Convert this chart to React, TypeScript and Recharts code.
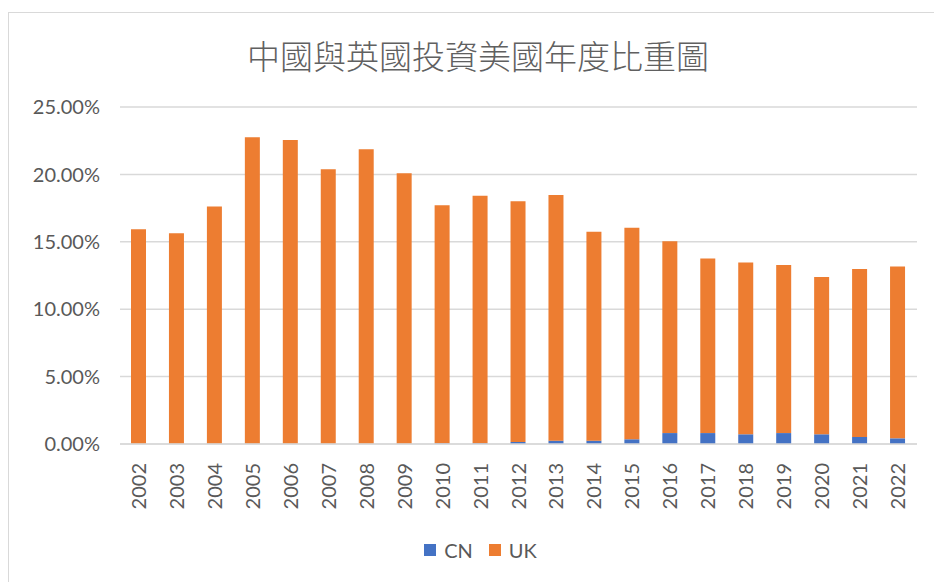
import { BarChart, Bar, XAxis, YAxis, CartesianGrid, Legend } from 'recharts'

const years = [
  '2002', '2003', '2004', '2005', '2006', '2007', '2008', '2009', '2010', '2011', '2012',
  '2013', '2014', '2015', '2016', '2017', '2018', '2019', '2020', '2021', '2022',
]

// percent of annual US investment
const cnShare = [
  0.01, 0.01, 0.01, 0.01, 0.01, 0.01, 0.01, 0.02, 0.05, 0.06, 0.15,
  0.25, 0.25, 0.35, 0.81, 0.81, 0.72, 0.81, 0.72, 0.52, 0.42,
]
const ukShare = [
  15.93, 15.63, 17.6, 22.75, 22.55, 20.38, 21.86, 20.07, 17.67, 18.35, 17.86,
  18.23, 15.49, 15.69, 14.24, 12.95, 12.75, 12.46, 11.67, 12.46, 12.75,
]
const yTicks = [0, 5, 10, 15, 20, 25]

const CN_COLOR = '#4472C4'
const UK_COLOR = '#ED7D31'
const TEXT = '#595959'
const GRID = '#d9d9d9'
const FONT = 'Lato, "Open Sans", sans-serif'

const data = years.map((year, i) => ({ year, CN: cnShare[i], UK: ukShare[i] }))

function YearTick({ x, y, payload }: { x: number; y: number; payload: { value: string } }) {
  return (
    <text
      x={x}
      y={y}
      dy={7}
      transform={`rotate(-90, ${x}, ${y})`}
      textAnchor="end"
      fill={TEXT}
      fontSize={20}
      fontFamily={FONT}
    >
      {payload.value}
    </text>
  )
}

function LegendContent() {
  const item = (label: string, color: string) => (
    <span style={{ display: 'flex', alignItems: 'center', gap: 8 }}>
      <span style={{ width: 12, height: 12, backgroundColor: color, display: 'inline-block' }} />
      <span>{label}</span>
    </span>
  )
  return (
    <div
      style={{
        display: 'flex',
        justifyContent: 'center',
        alignItems: 'center',
        gap: 16,
        fontFamily: FONT,
        fontSize: 20,
        color: TEXT,
        paddingLeft: 27,
      }}
    >
      {item('CN', CN_COLOR)}
      {item('UK', UK_COLOR)}
    </div>
  )
}

export default function App() {
  return (
    <div
      style={{
        position: 'absolute',
        top: 0,
        left: 0,
        width: 934,
        height: 582,
        overflow: 'hidden',
        background: '#fff',
      }}
    >
      <div
        style={{
          position: 'absolute',
          left: 8,
          top: 12,
          width: 1000,
          height: 1000,
          border: `1px solid ${GRID}`,
        }}
      />
      <div
        style={{
          position: 'absolute',
          top: 35,
          left: 0,
          width: 956,
          textAlign: 'center',
          fontFamily: '"Noto Sans CJK TC", sans-serif',
          fontWeight: 300,
          fontSize: 33,
          color: '#606060',
          lineHeight: '40px',
        }}
      >
        中國與英國投資美國年度比重圖
      </div>
      <div style={{ position: 'absolute', top: 0, left: 0 }}>
        <BarChart
          width={934}
          height={582}
          data={data}
          margin={{ top: 107, right: 17, bottom: 0, left: 0 }}
        >
          <CartesianGrid vertical={false} stroke={GRID} strokeWidth={1.5} />
          <XAxis
            dataKey="year"
            height={138}
            interval={0}
            tickLine={false}
            tickSize={0}
            tickMargin={19}
            axisLine={{ stroke: GRID, strokeWidth: 1.5 }}
            tick={(props: any) => <YearTick {...props} />}
          />
          <YAxis
            width={120}
            domain={[0, 25]}
            ticks={yTicks}
            axisLine={false}
            tickLine={false}
            tickSize={0}
            tickMargin={20}
            tickFormatter={(v: number) => `${v.toFixed(2)}%`}
            tick={{ fill: TEXT, fontSize: 20, fontFamily: FONT }}
          />
          <Legend
            layout="horizontal"
            verticalAlign="middle"
            align="center"
            wrapperStyle={{ top: 538, left: 0, width: 934, height: 28 }}
            content={() => <LegendContent />}
          />
          <Bar dataKey="CN" stackId="a" fill={CN_COLOR} barSize={15} isAnimationActive={false} />
          <Bar dataKey="UK" stackId="a" fill={UK_COLOR} barSize={15} isAnimationActive={false} />
        </BarChart>
      </div>
    </div>
  )
}
